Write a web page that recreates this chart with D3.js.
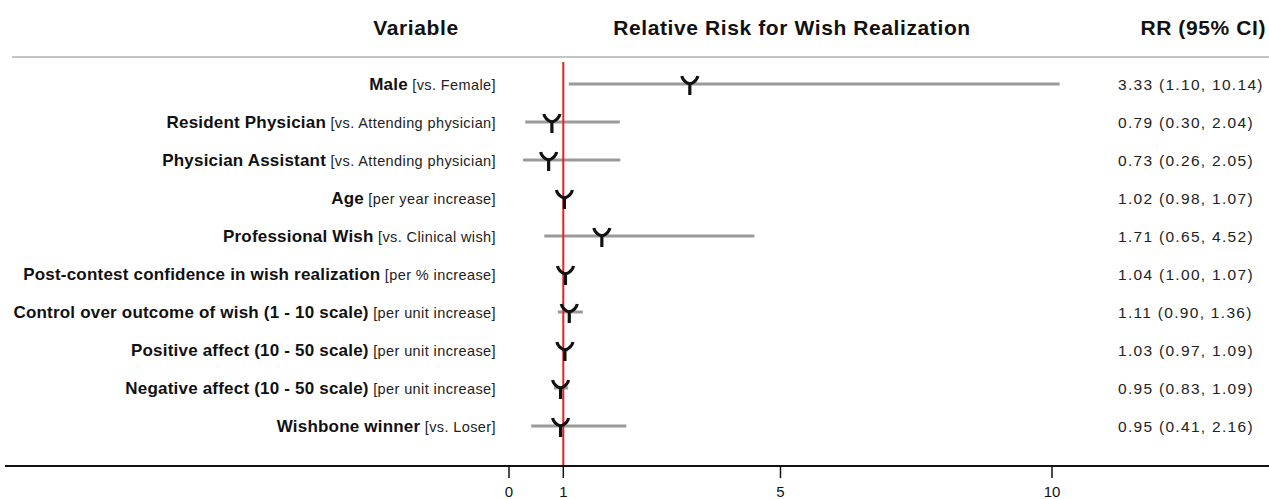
<!DOCTYPE html>
<html>
<head>
<meta charset="utf-8">
<script src="https://cdn.jsdelivr.net/npm/d3@7"></script>
<style>
  body { margin: 0; background: #fff; }
  text { font-family: "Liberation Sans", Arial, sans-serif; }
</style>
</head>
<body>
<script>
// Daten
const labels = ["Male", "Resident Physician", "Physician Assistant", "Age", "Professional Wish",
  "Post-contest confidence in wish realization", "Control over outcome of wish (1 - 10 scale)",
  "Positive affect (10 - 50 scale)", "Negative affect (10 - 50 scale)", "Wishbone winner"]
const refs = ["[vs. Female]", "[vs. Attending physician]", "[vs. Attending physician]", "[per year increase]",
  "[vs. Clinical wish]", "[per % increase]", "[per unit increase]", "[per unit increase]",
  "[per unit increase]", "[vs. Loser]"]
const rr = [3.33, 0.79, 0.73, 1.02, 1.71, 1.04, 1.11, 1.03, 0.95, 0.95]
const lower = [1.10, 0.30, 0.26, 0.98, 0.65, 1.00, 0.90, 0.97, 0.83, 0.41]
const upper = [10.14, 2.04, 2.05, 1.07, 4.52, 1.07, 1.36, 1.09, 1.09, 2.16]
const tickValues = [0, 1, 5, 10]

const width = 1269
const height = 499

const svg = d3.select("body").append("svg")
    .attr("width", width)
    .attr("height", height)

var x = d3.scaleLinear()
    .domain([0, 10])
    .range([509, 1052])

var y = d3.scaleBand()
    .domain(d3.range(labels.length))
    .range([65, 445])

const rowY = (i) => y(i) + y.bandwidth() / 2

//Header
svg.append("line")
    .attr("x1", 12).attr("x2", width)
    .attr("y1", 57).attr("y2", 57)
    .attr("stroke", "#c4c4c4").attr("stroke-width", 2)

const headers = [
  {t: "Variable", x: 416, a: "middle"},
  {t: "Relative Risk for Wish Realization", x: 792, a: "middle"},
  {t: "RR (95% CI)", x: 1266, a: "end"}
]
svg.selectAll(".hdr").data(headers).enter().append("text")
    .attr("x", d => d.x).attr("y", 35)
    .attr("text-anchor", d => d.a)
    .style("font-size", "21px").style("font-weight", "bold")
    .style("letter-spacing", "0.6px")
    .attr("fill", "#111")
    .text(d => d.t)

//Labels
var lab = svg.selectAll(".lab").data(labels).enter().append("text")
    .attr("x", 496)
    .attr("y", (d, i) => rowY(i) + 6)
    .attr("text-anchor", "end")
    .attr("fill", "#111")
lab.append("tspan").style("font-size", "17px").style("font-weight", "bold")
    .style("letter-spacing", "0.2px").text(d => d)
lab.append("tspan").style("font-size", "14.5px").style("letter-spacing", "0.4px")
    .attr("fill", "#222").text((d, i) => " " + refs[i])

//CI text
svg.selectAll(".ci").data(rr).enter().append("text")
    .attr("x", 1118)
    .attr("y", (d, i) => rowY(i) + 6)
    .style("font-size", "15.5px")
    .style("letter-spacing", "1.3px")
    .attr("fill", "#222")
    .text((d, i) => d.toFixed(2) + " (" + lower[i].toFixed(2) + ", " + upper[i].toFixed(2) + ")")

//CI lines
svg.selectAll(".cil").data(rr).enter().append("line")
    .attr("x1", (d, i) => x(lower[i]))
    .attr("x2", (d, i) => x(upper[i]))
    .attr("y1", (d, i) => rowY(i))
    .attr("y2", (d, i) => rowY(i))
    .attr("stroke", "#9a9a9a")
    .attr("stroke-width", 3)

//Referenzlinie
svg.append("line")
    .attr("x1", x(1)).attr("x2", x(1))
    .attr("y1", 62).attr("y2", 466)
    .attr("stroke", "#e8201f").attr("stroke-width", 2)

//Wishbone marker
svg.selectAll(".mk").data(rr).enter().append("path")
    .attr("transform", (d, i) => "translate(" + x(d) + "," + rowY(i) + ")")
    .attr("d", "M-8,-8 C-7,-3 -3,-1 0,0 C3,-1 7,-3 8,-8 M0,0 L0,11")
    .attr("fill", "none")
    .attr("stroke", "#111")
    .attr("stroke-width", 3.2)

//Achse
var axis = svg.append("g")
    .attr("transform", "translate(0,466)")
axis.append("line")
    .attr("x1", 5).attr("x2", width)
    .attr("stroke", "#111").attr("stroke-width", 2)
axis.selectAll(".tk").data(tickValues).enter().append("line")
    .attr("x1", d => x(d)).attr("x2", d => x(d))
    .attr("y1", 0).attr("y2", 12)
    .attr("stroke", "#111").attr("stroke-width", 1.5)
axis.selectAll(".tl").data(tickValues).enter().append("text")
    .attr("x", d => x(d)).attr("y", 31)
    .attr("text-anchor", "middle")
    .style("font-size", "15px")
    .attr("fill", "#111")
    .text(d => d)
</script>
</body>
</html>
